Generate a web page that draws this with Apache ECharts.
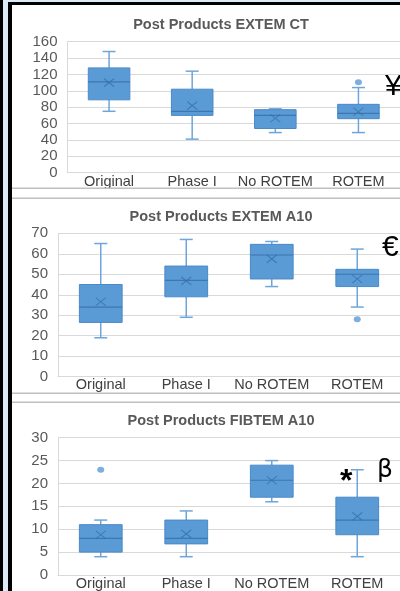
<!DOCTYPE html>
<html>
<head>
<meta charset="utf-8">
<script src="https://cdn.jsdelivr.net/npm/echarts@6/dist/echarts.min.js"></script>
<style>
html,body{margin:0;padding:0;background:#fff;overflow:hidden;}
#c{width:400px;height:591px;}
</style>
</head>
<body>
<div id="c"></div>
<script>
// ---- data ----
var categories = ['Original', 'Phase I', 'No ROTEM', 'ROTEM'];
var titles = ['Post Products EXTEM CT', 'Post Products EXTEM A10', 'Post Products FIBTEM A10'];

// [min, Q1, median, Q3, max]
var ctBox = [[75, 89, 111, 128, 148], [41, 70, 75, 102, 124], [49, 54, 70, 77, 78], [49, 66, 72.5, 83.5, 104]];
var ctMean = [110, 82, 66.5, 74.5];
var ctOutliers = [['ROTEM', 110.5]];
var ctTicks = {min: 0, max: 160, interval: 20};

var a10Box = [[19, 26.5, 34, 45, 65], [29, 39, 47, 54, 67], [44, 47.7, 59.4, 64.6, 66], [34, 44, 50, 52.4, 62.3]];
var a10Mean = [36.6, 46.8, 57.5, 47.7];
var a10Outliers = [['ROTEM', 28]];
var a10Ticks = {min: 0, max: 70, interval: 10};

var fibBox = [[4, 5, 8, 11, 12], [4, 6.8, 8, 12, 14], [16, 17, 20.7, 24, 25], [4, 8.8, 12, 17, 23]];
var fibMean = [8.8, 9, 20.7, 12.8];
var fibOutliers = [['Original', 23]];
var fibTicks = {min: 0, max: 30, interval: 5};

// ---- chart ----
var BOX_FILL = '#5b9bd5', BOX_EDGE = '#4a89c8', WHISK = '#6ea6db', MED = '#3d76b0', MEAN = '#356ea8';
var FONT = '"Liberation Sans", Arial, sans-serif';

var panels = [
  {box: ctBox, mean: ctMean, out: ctOutliers, ticks: ctTicks, grid: {left: 67.5, top: 41.7, width: 341, height: 131}, titleTop: 12, labelMargin: 2},
  {box: a10Box, mean: a10Mean, out: a10Outliers, ticks: a10Ticks, grid: {left: 58, top: 233.3, width: 351, height: 143.4}, titleTop: 204, labelMargin: 1},
  {box: fibBox, mean: fibMean, out: fibOutliers, ticks: fibTicks, grid: {left: 58, top: 437.7, width: 351, height: 138}, titleTop: 408, labelMargin: 1}
];

function renderBox(params, api) {
  var idx = api.value(0);
  var pMin = api.coord([idx, api.value(1)]);
  var pQ1 = api.coord([idx, api.value(2)]);
  var pMed = api.coord([idx, api.value(3)]);
  var pQ3 = api.coord([idx, api.value(4)]);
  var pMax = api.coord([idx, api.value(5)]);
  var band = api.size([1, 0])[0];
  var bw = band * 0.5, cw = 13;
  var cx = pMed[0];
  var ls = {stroke: WHISK, lineWidth: 1.5};
  return {
    type: 'group',
    children: [
      {type: 'line', shape: {x1: cx, y1: pMin[1], x2: cx, y2: pQ1[1]}, style: ls},
      {type: 'line', shape: {x1: cx, y1: pQ3[1], x2: cx, y2: pMax[1]}, style: ls},
      {type: 'line', shape: {x1: cx - cw / 2, y1: pMin[1], x2: cx + cw / 2, y2: pMin[1]}, style: ls},
      {type: 'line', shape: {x1: cx - cw / 2, y1: pMax[1], x2: cx + cw / 2, y2: pMax[1]}, style: ls},
      {type: 'rect', shape: {x: cx - bw / 2, y: pQ3[1], width: bw, height: pQ1[1] - pQ3[1]}, style: {fill: BOX_FILL, stroke: BOX_EDGE, lineWidth: 1}},
      {type: 'line', shape: {x1: cx - bw / 2, y1: pMed[1], x2: cx + bw / 2, y2: pMed[1]}, style: {stroke: MED, lineWidth: 1.2}}
    ]
  };
}

var grid = [], xAxis = [], yAxis = [], series = [], title = [];
panels.forEach(function (p, i) {
  grid.push(p.grid);
  title.push({text: titles[i], left: 216, top: p.titleTop, textAlign: 'center',
    textStyle: {fontFamily: FONT, fontSize: 14.5, fontWeight: 'bold', color: '#595959'}});
  xAxis.push({type: 'category', gridIndex: i, data: categories, boundaryGap: true,
    axisTick: {show: false}, axisLine: {lineStyle: {color: '#d9d9d9'}},
    axisLabel: {fontFamily: FONT, fontSize: 14.5, color: '#404040', margin: p.labelMargin, interval: 0}});
  yAxis.push({type: 'value', gridIndex: i, min: p.ticks.min, max: p.ticks.max, interval: p.ticks.interval,
    axisLine: {show: true, lineStyle: {color: '#d9d9d9'}}, axisTick: {show: false},
    splitLine: {lineStyle: {color: '#d9d9d9', width: 1}},
    axisLabel: {fontFamily: FONT, fontSize: 15, color: '#595959', margin: 10}});
  series.push({type: 'custom', xAxisIndex: i, yAxisIndex: i, renderItem: renderBox,
    encode: {x: 0, y: [1, 2, 3, 4, 5]},
    data: p.box.map(function (b, k) { return [k].concat(b); }), z: 2});
  series.push({type: 'scatter', xAxisIndex: i, yAxisIndex: i, symbol: 'path://M0,0L10,8M10,0L0,8',
    symbolSize: [10, 8], itemStyle: {color: 'rgba(0,0,0,0)', borderColor: MEAN, borderWidth: 1},
    data: p.mean.map(function (m, k) { return [k, m]; }), z: 3});
  series.push({type: 'scatter', xAxisIndex: i, yAxisIndex: i, symbol: 'circle', symbolSize: [7, 6],
    itemStyle: {color: BOX_FILL}, data: p.out, z: 3});
});

var graphic = [
  {type: 'rect', shape: {x: 0, y: 0, width: 400, height: 2}, style: {fill: '#dce9f7'}, z: 10},
  {type: 'rect', shape: {x: 0, y: 0, width: 3, height: 591}, style: {fill: '#000'}, z: 10},
  {type: 'rect', shape: {x: 3, y: 0, width: 5, height: 591}, style: {fill: '#dce9f7'}, z: 10},
  {type: 'rect', shape: {x: 8, y: 2, width: 4, height: 589}, style: {fill: '#000'}, z: 10},
  {type: 'rect', shape: {x: 8, y: 2, width: 392, height: 3}, style: {fill: '#000'}, z: 10},
  {type: 'rect', shape: {x: 12, y: 187.5, width: 388, height: 1.5}, style: {fill: '#c0c0c0'}, z: 10},
  {type: 'rect', shape: {x: 12, y: 197.5, width: 388, height: 1.5}, style: {fill: '#c0c0c0'}, z: 10},
  {type: 'rect', shape: {x: 12, y: 392.5, width: 388, height: 1.5}, style: {fill: '#c0c0c0'}, z: 10},
  {type: 'rect', shape: {x: 12, y: 401.5, width: 388, height: 1.5}, style: {fill: '#c0c0c0'}, z: 10},
  {type: 'text', left: 385, top: 72, style: {text: '¥', fontFamily: FONT, fontSize: 30, fill: '#000'}, z: 10},
  {type: 'text', left: 382, top: 233, style: {text: '€', fontFamily: FONT, fontSize: 30, fill: '#000'}, z: 10},
  {type: 'text', left: 340, top: 466, style: {text: '*', fontFamily: FONT, fontSize: 32, fontWeight: 'bold', fill: '#000'}, z: 10},
  {type: 'text', left: 377, top: 458, style: {text: 'β', fontFamily: '"DejaVu Sans", sans-serif', fontSize: 25, fill: '#000'}, z: 10}
];

var chart = echarts.init(document.getElementById('c'), null, {renderer: 'canvas'});
chart.setOption({
  backgroundColor: '#ffffff',
  animation: false,
  title: title,
  grid: grid,
  xAxis: xAxis,
  yAxis: yAxis,
  series: series,
  graphic: graphic
});
</script>
</body>
</html>
